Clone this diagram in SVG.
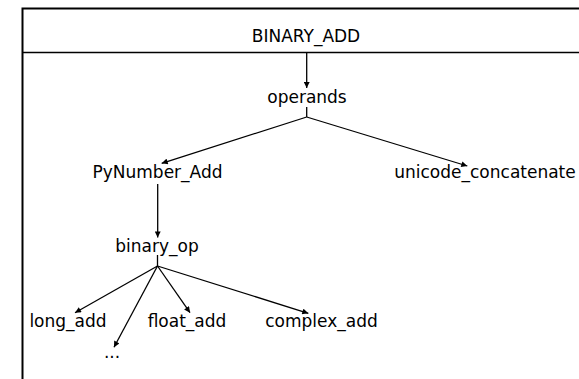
<svg xmlns="http://www.w3.org/2000/svg" width="579" height="379" viewBox="0 0 579 379">
<style>
.t{font-family:"DejaVu Sans",sans-serif;font-size:17px;fill:#000;text-anchor:middle}
.e{stroke:#000;stroke-width:1.3;fill:none}
.a{marker-end:url(#arr)}
</style>
<defs>
<marker id="arr" viewBox="0 0 10 10" refX="10" refY="5" markerWidth="7" markerHeight="6" markerUnits="userSpaceOnUse" orient="auto">
<path d="M0,0 L10,5 L0,10 z" fill="#000"/>
</marker>
</defs>
<rect width="579" height="379" fill="#fff"/>
<g id="frame">
<path d="M22.5,379 V8.5 H600" stroke="#000" stroke-width="2" fill="none"/>
<line x1="22.5" y1="52.5" x2="600" y2="52.5" stroke="#000" stroke-width="1.5"/>
</g>
<g id="BINARY_ADD"><text class="t" x="306" y="42">BINARY_ADD</text></g>
<g id="operands"><text class="t" x="307" y="103">operands</text></g>
<g id="PyNumber_Add"><text class="t" x="157.5" y="178">PyNumber_Add</text></g>
<g id="unicode_concatenate"><text class="t" x="485" y="178">unicode_concatenate</text></g>
<g id="binary_op"><text class="t" x="157" y="252">binary_op</text></g>
<g id="long_add"><text class="t" x="68" y="327">long_add</text></g>
<g id="float_add"><text class="t" x="187" y="327">float_add</text></g>
<g id="complex_add"><text class="t" x="321.5" y="327">complex_add</text></g>
<g id="more"><text class="t" x="112" y="358">...</text></g>
<g id="connectors">
<line class="e a" x1="306.7" y1="53" x2="306.7" y2="88"/>
<line class="e" x1="306.7" y1="107" x2="306.7" y2="117"/>
<line class="e a" x1="306.7" y1="117" x2="161.7" y2="163.3"/>
<line class="e a" x1="306.7" y1="117" x2="467.3" y2="166"/>
<line class="e a" x1="157.7" y1="184" x2="157.7" y2="237.5"/>
<line class="e" x1="157.5" y1="255" x2="157.5" y2="266"/>
<line class="e a" x1="157.5" y1="266" x2="75" y2="312.7"/>
<line class="e a" x1="157.5" y1="266" x2="114" y2="347.3"/>
<line class="e a" x1="157.5" y1="266" x2="190" y2="312.7"/>
<line class="e a" x1="157.5" y1="266" x2="308.3" y2="313.3"/>
</g>
</svg>
